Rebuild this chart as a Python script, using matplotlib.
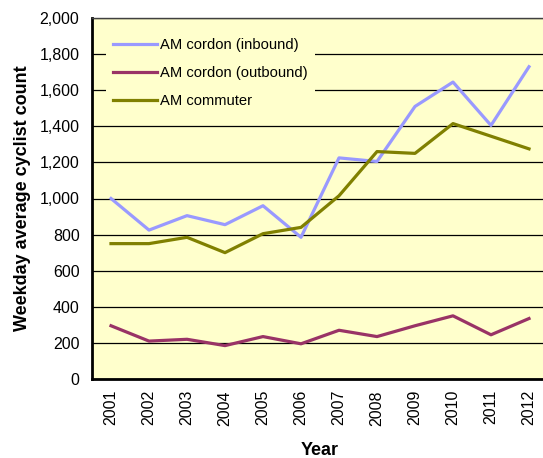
import matplotlib
matplotlib.use('Agg')
import matplotlib.pyplot as plt
from matplotlib.ticker import FuncFormatter

years = ['2001', '2002', '2003', '2004', '2005', '2006',
         '2007', '2008', '2009', '2010', '2011', '2012']
inbound = [1000, 825, 905, 855, 960, 785, 1225, 1205, 1510, 1645, 1405, 1730]
outbound = [295, 210, 220, 185, 235, 195, 270, 235, 295, 350, 245, 335]
commuter = [750, 750, 785, 700, 805, 840, 1015, 1260, 1250, 1415, 1345, 1275]

plt.rcParams['font.family'] = ['Liberation Sans', 'DejaVu Sans']

fig = plt.figure(figsize=(5.43, 4.58), dpi=100)
ax = fig.add_axes([92/543, 79/458, 456/543, 361/458])
ax.set_facecolor('#FFFFCC')

x = list(range(len(years)))
ax.plot(x, inbound, color='#9999FF', linewidth=2.3, label='AM cordon (inbound)')
ax.plot(x, outbound, color='#993366', linewidth=2.3, label='AM cordon (outbound)')
ax.plot(x, commuter, color='#808000', linewidth=2.3, label='AM commuter')

ax.set_xlim(-0.5, 11.5)
ax.set_ylim(0, 2000)
ax.set_yticks(range(0, 2001, 200))
ax.yaxis.set_major_formatter(FuncFormatter(lambda v, p: f'{int(v):,}'))
ax.set_xticks(x)
ax.set_xticklabels(years, rotation=90)
ax.tick_params(axis='both', length=0, labelsize=11.5, colors='black')
ax.tick_params(axis='y', pad=9)
ax.tick_params(axis='x', pad=8)
ax.grid(axis='y', color='black', linewidth=0.9)
ax.set_axisbelow(True)

for side in ['left', 'bottom']:
    ax.spines[side].set_linewidth(2)
    ax.spines[side].set_color('black')
ax.spines['top'].set_linewidth(1)
ax.spines['top'].set_color('#404040')
ax.spines['right'].set_visible(False)

ax.set_ylabel('Weekday average cyclist count', fontsize=13, fontweight='bold', labelpad=6)
ax.set_xlabel('Year', fontsize=13, fontweight='bold', labelpad=12)

leg = ax.legend(loc='upper left', bbox_to_anchor=(0.03, 0.965), frameon=True,
                fontsize=10.6, handlelength=3.0, handletextpad=0.2, labelspacing=0.95,
                borderaxespad=0, borderpad=0.5)
leg.get_frame().set_facecolor('#FFFFCC')
leg.get_frame().set_edgecolor('none')
leg.get_frame().set_alpha(1)

fig.savefig('out.png', dpi=100)
